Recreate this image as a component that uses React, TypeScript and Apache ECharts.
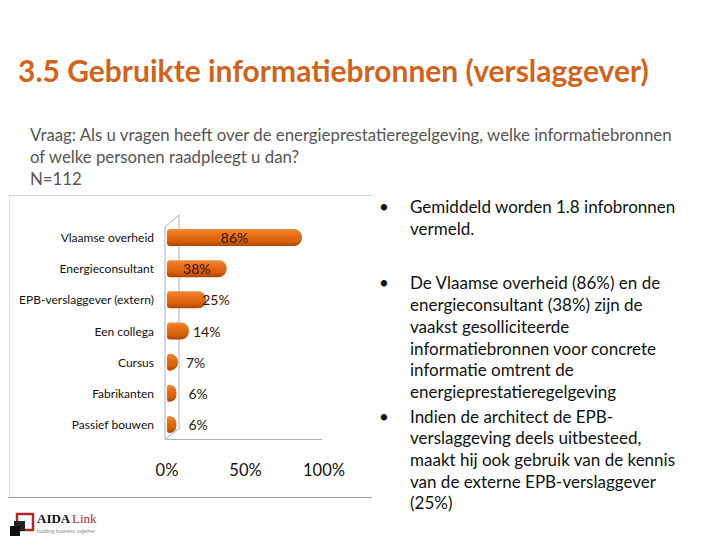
import React, { useEffect, useRef } from "react";
import * as echarts from "echarts";

const categories = [
  "Vlaamse overheid",
  "Energieconsultant",
  "EPB-verslaggever (extern)",
  "Een collega",
  "Cursus",
  "Fabrikanten",
  "Passief bouwen",
];
const values = [86, 38, 25, 14, 7, 6, 6];
const xTicks = [0, 50, 100];

const titleText = "3.5 Gebruikte informatiebronnen (verslaggever)";
const questionLines = [
  "Vraag: Als u vragen heeft over de energieprestatieregelgeving, welke informatiebronnen",
  "of welke personen raadpleegt u dan?",
  "N=112",
];
const bullets = [
  ["Gemiddeld worden 1.8 infobronnen", "vermeld."],
  [
    "De Vlaamse overheid (86%) en de",
    "energieconsultant (38%) zijn de",
    "vaakst gesolliciteerde",
    "informatiebronnen voor concrete",
    "informatie omtrent de",
    "energieprestatieregelgeving",
  ],
  [
    "Indien de architect de EPB-",
    "verslaggeving deels uitbesteed,",
    "maakt hij ook gebruik van de kennis",
    "van de externe EPB-verslaggever",
    "(25%)",
  ],
];

export default function App() {
  const ref = useRef<HTMLDivElement>(null);
  useEffect(() => {
    if (!ref.current) return;
    const chart = echarts.init(ref.current, null, { renderer: "svg" });

    const gridLeft = 167;
    const gridRight = 396;
    const gridTop = 222;
    const gridBottom = 100;

    const barColor = new echarts.graphic.LinearGradient(0, 0, 0, 1, [
      { offset: 0, color: "#F08A3A" },
      { offset: 0.35, color: "#E86E14" },
      { offset: 0.75, color: "#D45E0A" },
      { offset: 1, color: "#A84400" },
    ]);

    const labelFor = (v: number, i: number) => {
      if (v >= 30) {
        return { show: true, position: "inside", color: "#3a1505" };
      }
      const dist = [0, 0, -4, 4, 8, 12, 12][i];
      return {
        show: true,
        position: "right",
        distance: dist,
        color: v >= 10 ? "#3a1505" : "#1a1a1a",
      };
    };

    const graphics: any[] = [];
    graphics.push({
      type: "text",
      left: 18,
      top: 55,
      style: {
        text: titleText,
        font: "bold 30px Lato",
        fill: "#D0641C",
      },
    });
    questionLines.forEach((t, i) => {
      graphics.push({
        type: "text",
        left: 30,
        top: 126 + i * 22,
        style: { text: t, font: "16.8px Lato", fill: "#555555" },
      });
    });
    // chart frame
    graphics.push(
      { type: "line", shape: { x1: 8, y1: 195.5, x2: 372, y2: 195.5 }, style: { stroke: "#d6d6d6", lineWidth: 1 } },
      { type: "line", shape: { x1: 9.5, y1: 195, x2: 9.5, y2: 497 }, style: { stroke: "#e0e0e0", lineWidth: 1 } },
      { type: "line", shape: { x1: 8, y1: 497.5, x2: 372, y2: 497.5 }, style: { stroke: "#9a9a9a", lineWidth: 1 } }
    );
    // 3D wall / floor
    const wall = "#a9b0b8";
    graphics.push(
      { type: "line", z: 1, shape: { x1: 165, y1: 227, x2: 165, y2: 439 }, style: { stroke: wall, lineWidth: 1 } },
      { type: "line", z: 1, shape: { x1: 179, y1: 215, x2: 179, y2: 428 }, style: { stroke: wall, lineWidth: 1 } },
      { type: "line", z: 1, shape: { x1: 165, y1: 227, x2: 179, y2: 215 }, style: { stroke: wall, lineWidth: 1 } },
      { type: "line", z: 1, shape: { x1: 165, y1: 439, x2: 180, y2: 428 }, style: { stroke: wall, lineWidth: 1 } },
      { type: "line", z: 1, shape: { x1: 165, y1: 439.5, x2: 322, y2: 439.5 }, style: { stroke: wall, lineWidth: 1 } }
    );
    // bullets
    let y = 198;
    bullets.forEach((lines, bi) => {
      graphics.push({
        type: "text",
        left: 379,
        top: y,
        style: { text: "•", font: "17px Lato", fill: "#111" },
      });
      lines.forEach((t, li) => {
        graphics.push({
          type: "text",
          left: 410,
          top: y + li * 21.7,
          style: { text: t, font: "17px Lato", fill: "#111" },
        });
      });
      y += lines.length * 21.7 + (bi === 0 ? 33 : 3);
    });
    // logo
    graphics.push(
      { type: "rect", shape: { x: 17, y: 514, width: 16, height: 16 }, style: { fill: "none", stroke: "#B0282E", lineWidth: 2.5 } },
      { type: "rect", shape: { x: 14, y: 521, width: 11, height: 10 }, style: { fill: "#222" } },
      { type: "rect", shape: { x: 10, y: 526, width: 10, height: 10 }, style: { fill: "#111" } },
      { type: "text", left: 37, top: 512, style: { text: "AIDA", font: "bold 13px 'Liberation Serif'", fill: "#111" } },
      { type: "text", left: 72, top: 512, style: { text: "Link", font: "13px 'Liberation Serif'", fill: "#B0282E" } },
      { type: "text", left: 37, top: 528, style: { text: "building business together", font: "5px 'Liberation Sans'", fill: "#888" } }
    );

    chart.setOption({
      animation: false,
      backgroundColor: "#ffffff",
      grid: { left: gridLeft, right: gridRight, top: gridTop, bottom: gridBottom },
      xAxis: {
        type: "value",
        min: xTicks[0],
        max: xTicks[xTicks.length - 1],
        interval: xTicks[1] - xTicks[0],
        axisLine: { show: false },
        axisTick: { show: false },
        splitLine: { show: false },
        axisLabel: {
          formatter: "{value}%",
          fontSize: 16.5,
          fontFamily: "Lato",
          color: "#111",
          margin: 21,
        },
      },
      yAxis: {
        type: "category",
        inverse: true,
        data: categories,
        axisLine: { show: false },
        axisTick: { show: false },
        axisLabel: {
          fontSize: 12,
          fontFamily: "Lato",
          color: "#111",
          margin: 13,
          padding: [6, 0, 0, 0],
        },
      },
      series: [
        {
          type: "bar",
          z: 3,
          barWidth: 17,
          data: values.map((v, i) => ({
            value: v,
            label: labelFor(v, i),
          })),
          itemStyle: {
            color: barColor,
            borderRadius: [3, 8, 8, 3],
          },
          label: {
            show: true,
            formatter: "{c}%",
            fontSize: 14,
            fontFamily: "Lato",
          },
        },
      ],
      graphic: graphics,
    });
    return () => chart.dispose();
  }, []);
  return (
    <div
      ref={ref}
      style={{ position: "fixed", left: 0, top: 0, width: 720, height: 540 }}
    />
  );
}
